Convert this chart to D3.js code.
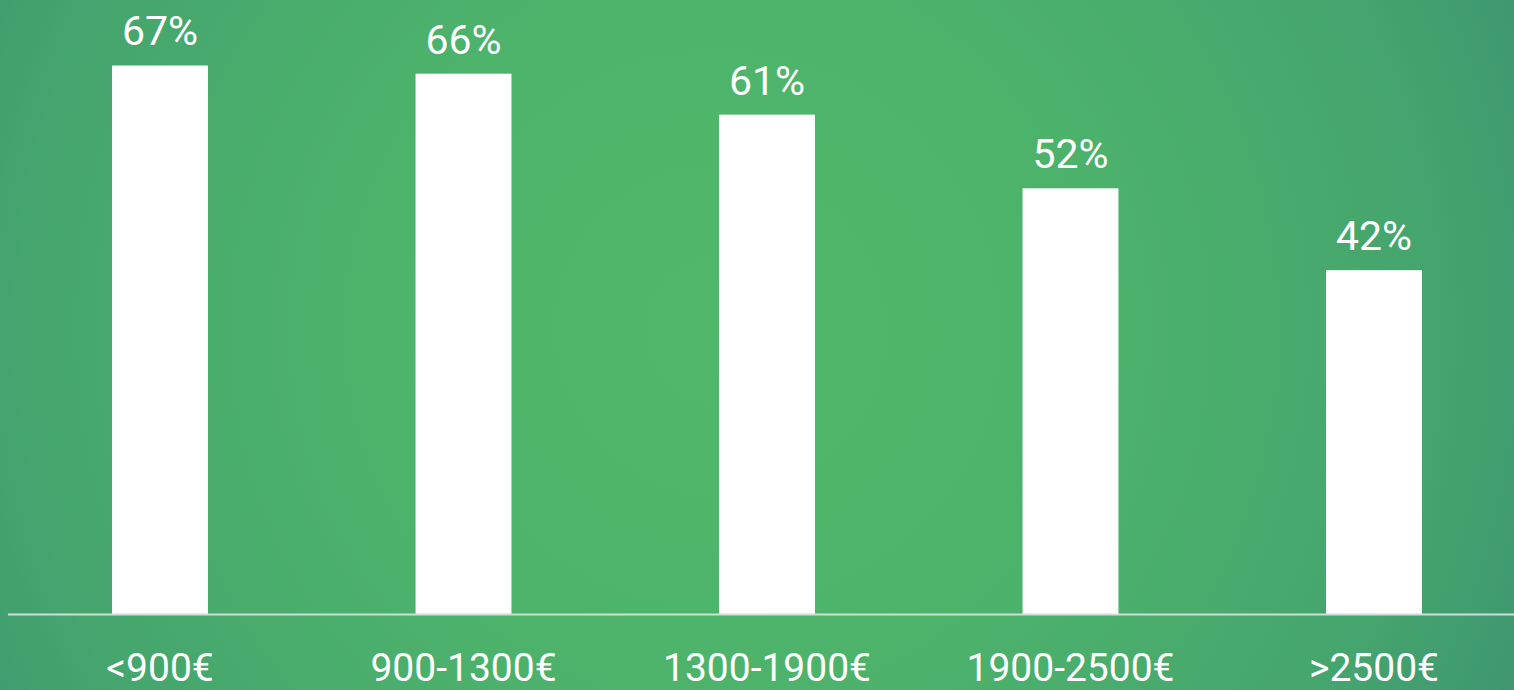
<!DOCTYPE html>
<html>
<head>
<meta charset="utf-8">
<script src="https://cdn.jsdelivr.net/npm/d3@7"></script>
<style>
  html, body { margin: 0; padding: 0; overflow: hidden; }
  svg { display: block; }
</style>
</head>
<body>
<div id="chart"></div>
<script>
// income brackets and share of respondents
const categories = ["<900€", "900-1300€", "1300-1900€", "1900-2500€", ">2500€"];
const values = [67, 66, 61, 52, 42];

const width = 1514, height = 690;
const baseY = 614;

const svg = d3.select("#chart").append("svg")
    .attr("width", width)
    .attr("height", height);

// soft green background, brighter in the middle
const defs = svg.append("defs");
const bg = defs.append("radialGradient")
    .attr("id", "bg")
    .attr("gradientUnits", "userSpaceOnUse")
    .attr("cx", 720).attr("cy", 330).attr("r", 900);
bg.append("stop").attr("offset", "0%").attr("stop-color", "#50b86b");
bg.append("stop").attr("offset", "40%").attr("stop-color", "#4db36b");
bg.append("stop").attr("offset", "78%").attr("stop-color", "#45a56e");
bg.append("stop").attr("offset", "100%").attr("stop-color", "#3e9470");

svg.append("rect")
    .attr("width", width).attr("height", height)
    .attr("fill", "url(#bg)");

const x = d3.scaleBand()
    .domain(categories)
    .range([8.25, 1525.75])
    .paddingInner(0.684)
    .paddingOuter(0.342);

const y = d3.scaleLinear()
    .domain([0, 75])
    .range([baseY, 0]);

// bars
svg.append("g").selectAll("rect")
    .data(values)
    .join("rect")
    .attr("x", (d, i) => x(categories[i]))
    .attr("y", d => y(d))
    .attr("width", x.bandwidth())
    .attr("height", d => baseY - y(d))
    .attr("fill", "#fff");

// value labels
svg.append("g").selectAll("text")
    .data(values)
    .join("text")
    .attr("x", (d, i) => x(categories[i]) + x.bandwidth() / 2)
    .attr("y", d => y(d) - 20)
    .attr("text-anchor", "middle")
    .attr("fill", "#fff")
    .style("font-family", "Roboto, 'Noto Sans', sans-serif")
    .style("font-size", "41px")
    .text(d => d + "%");

// baseline
svg.append("line")
    .attr("x1", 8).attr("x2", width)
    .attr("y1", baseY + 0.5).attr("y2", baseY + 0.5)
    .attr("stroke", "#d4dcd6")
    .attr("stroke-width", 2);

// category axis labels (no ticks); kept just inside the bottom edge
const xAxis = svg.append("g")
    .attr("transform", `translate(0, ${baseY})`)
    .call(d3.axisBottom(x).tickSize(0).tickPadding(0));
xAxis.select(".domain").remove();
xAxis.selectAll("text")
    .attr("y", 67)
    .attr("dy", 0)
    .attr("fill", "#fff")
    .style("font-family", "Roboto, 'Noto Sans', sans-serif")
    .style("font-size", "39px");
</script>
</body>
</html>
